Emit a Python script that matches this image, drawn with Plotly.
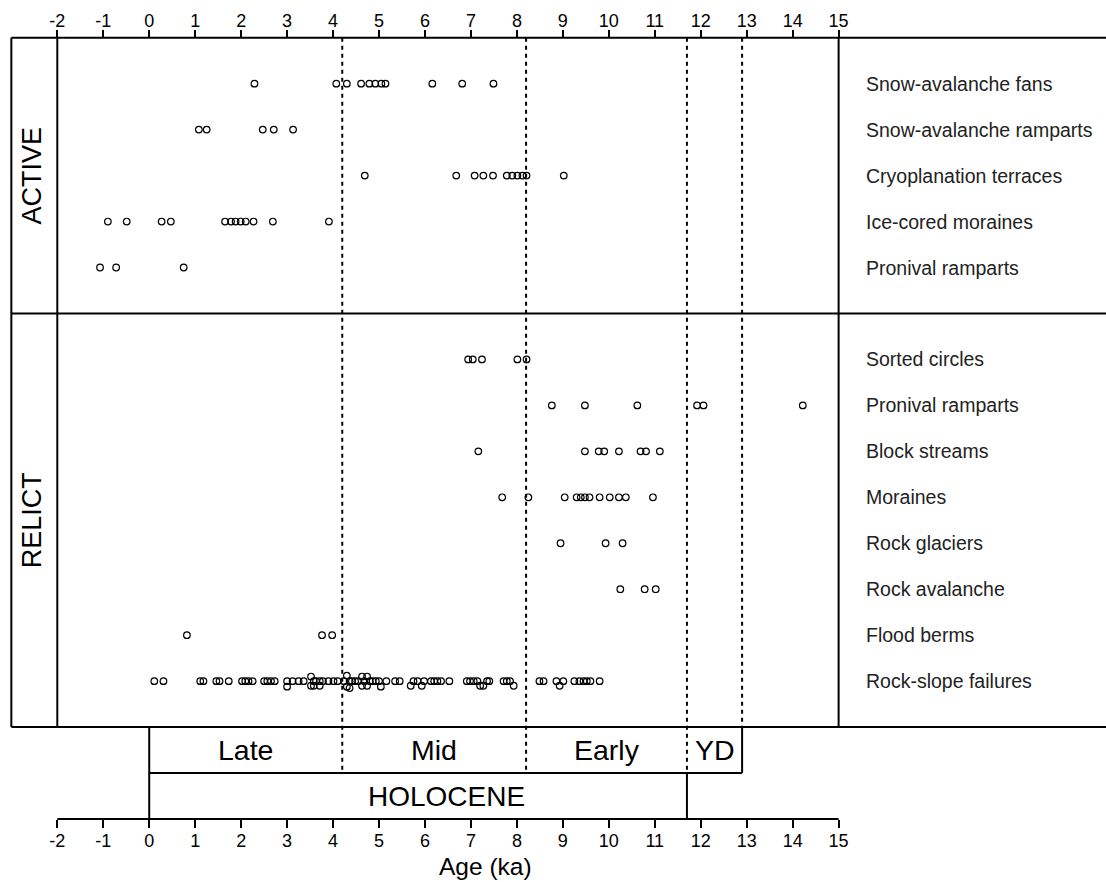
import plotly.graph_objects as go

# ---------------- data (ages in ka) ----------------
active_cats = ["Snow-avalanche fans", "Snow-avalanche ramparts", "Cryoplanation terraces",
               "Ice-cored moraines", "Pronival ramparts"]
relict_cats = ["Sorted circles", "Pronival ramparts", "Block streams", "Moraines",
               "Rock glaciers", "Rock avalanche", "Flood berms", "Rock-slope failures"]

snow_av_fans = [2.29, 4.07, 4.30, 4.61, 4.79, 4.92, 5.05, 5.14, 6.16, 6.81, 7.49]
snow_av_ramparts = [1.08, 1.25, 2.47, 2.71, 3.13]
cryoplanation = [4.69, 6.68, 7.08, 7.27, 7.48, 7.78, 7.90, 8.01, 8.12, 8.21, 9.02]
ice_cored = [-0.90, -0.49, 0.27, 0.47, 1.65, 1.78, 1.88, 1.99, 2.10, 2.27, 2.69, 3.91]
pronival_active = [-1.07, -0.72, 0.75]

sorted_circles = [6.94, 7.04, 7.24, 8.01, 8.21]
pronival_relict = [8.76, 9.48, 10.62, 11.92, 12.06, 14.22]
block_streams = [7.16, 9.48, 9.78, 9.90, 10.22, 10.69, 10.81, 11.11]
moraines = [7.68, 8.25, 9.04, 9.30, 9.39, 9.48, 9.58, 9.80, 10.02, 10.22, 10.37, 10.96]
rock_glaciers = [8.95, 9.93, 10.30]
rock_avalanche = [10.25, 10.78, 11.02]
flood_berms = [0.82, 3.76, 3.98]
rsf_age = [
    0.11, 0.31, 1.11, 1.18, 1.46, 1.53, 1.73,
    2.02, 2.09, 2.16, 2.25, 2.50, 2.57, 2.65, 2.73,
    3.00, 3.00, 3.12, 3.25, 3.36,
    3.52, 3.52, 3.58, 3.58, 3.63, 3.71, 3.71, 3.78,
    3.90, 4.01, 4.10,
    4.24, 4.30, 4.30, 4.36, 4.36, 4.41, 4.48, 4.55,
    4.63, 4.63, 4.68, 4.74, 4.74, 4.80, 4.86, 4.93,
    5.00, 5.04, 5.16, 5.35, 5.45,
    5.69, 5.75, 5.84, 5.93, 5.98,
    6.13, 6.20, 6.27, 6.35, 6.53,
    6.91, 6.98, 7.06, 7.14, 7.20, 7.27, 7.35, 7.40,
    7.71, 7.78, 7.85, 7.93,
    8.49, 8.58, 8.86, 8.93, 9.01,
    9.25, 9.36, 9.45, 9.52, 9.60, 9.80]
# small vertical scatter of overlapping rock-slope-failure symbols (row units)
rsf_offset = [
    0, 0, 0, 0, 0, 0, 0,
    0, 0, 0, 0, 0, 0, 0, 0,
    0, 0.12, 0, 0, 0,
    -0.1, 0.1, 0, 0.1, 0, 0, 0.1, 0,
    0, 0, 0,
    0, -0.12, 0.12, 0, 0.15, 0, 0, 0,
    -0.1, 0.1, 0, -0.1, 0.1, 0, 0, 0,
    0, 0.12, 0, 0, 0,
    0.1, 0, 0, 0.1, 0,
    0, 0, 0, 0, 0,
    0, 0, 0, 0, 0.1, 0.1, 0, 0,
    0, 0, 0, 0.1,
    0, 0, 0, 0.1, 0,
    0, 0, 0, 0, 0, 0]

active_ages = [snow_av_fans, snow_av_ramparts, cryoplanation, ice_cored, pronival_active]
relict_ages = [sorted_circles, pronival_relict, block_streams, moraines,
               rock_glaciers, rock_avalanche, flood_berms, rsf_age]

tick_vals = list(range(-2, 16))
period_labels = ["Late", "Mid", "Early", "YD"]
period_bounds = [0.0, 4.2, 8.2, 11.7, 12.9]
holocene_bounds = [0.0, 11.7]

# ---------------- geometry ----------------
W, H = 1106, 882
U = 45.96          # px per unit (both axes)
X0PX = 57.3        # px position of x=-2
Y0PX = 37.7        # px position of top frame (row 0)
PT, PB = 30, 830   # plot area top / bottom px
XMIN = -2 - X0PX / U
XMAX = -2 + (W - X0PX) / U
YTOP = (PT - Y0PX) / U
YBOT = (PB - Y0PX) / U
FRAME_L = -3.0
N_ACT = len(active_cats)
DIV = N_ACT + 1
REL0 = DIV + 1
FRAME_B = DIV + len(relict_cats) + 1
AXIS_Y = FRAME_B + 2


def paper_y(ydata):
    return (PB - (Y0PX + ydata * U)) / (PB - PT)


FONT = "Liberation Sans, Arial, Helvetica, sans-serif"
fig = go.Figure()

marker = dict(symbol="circle-open", size=6.6, color="black", line=dict(width=1.2, color="black"))
for i, ages in enumerate(active_ages):
    fig.add_trace(go.Scatter(x=ages, y=[i + 1] * len(ages), mode="markers",
                             marker=marker, showlegend=False, hoverinfo="x"))
for j, ages in enumerate(relict_ages):
    if ages is rsf_age:
        ys = [REL0 + j + d for d in rsf_offset]
    else:
        ys = [REL0 + j] * len(ages)
    fig.add_trace(go.Scatter(x=ages, y=ys, mode="markers",
                             marker=marker, showlegend=False, hoverinfo="x"))
# invisible trace so the top (duplicate) age axis is drawn
fig.add_trace(go.Scatter(x=[tick_vals[0]], y=[0], xaxis="x2", yaxis="y", mode="markers",
                         marker=dict(opacity=0), showlegend=False, hoverinfo="skip"))

shapes = []
def line(x0, y0, x1, y1, dash="solid", width=2):
    shapes.append(dict(type="line", xref="x", yref="y", x0=x0, y0=y0, x1=x1, y1=y1,
                       line=dict(color="black", width=width, dash=dash), layer="above"))

# frame
line(FRAME_L, 0, XMAX, 0)
line(FRAME_L, DIV, XMAX, DIV)
line(FRAME_L, FRAME_B, XMAX, FRAME_B)
line(FRAME_L, 0, FRAME_L, FRAME_B)
line(-2, 0, -2, FRAME_B)
line(15, 0, 15, FRAME_B)
# period box
p0, p1, p2, p3, p4 = period_bounds
line(p0, FRAME_B, p0, AXIS_Y)
line(p0, FRAME_B + 1, p4, FRAME_B + 1)
line(p4, FRAME_B, p4, FRAME_B + 1)
line(holocene_bounds[1], FRAME_B + 1, holocene_bounds[1], AXIS_Y)
# axis lines
line(-2, AXIS_Y, 15, AXIS_Y)
# dashed period boundaries
DASH = "4px,4px"
line(p1, 0, p1, FRAME_B + 1, dash=DASH)
line(p2, 0, p2, FRAME_B + 1, dash=DASH)
line(p3, 0, p3, FRAME_B + 1, dash=DASH)
line(p4, 0, p4, FRAME_B, dash=DASH)

ann = []
for i, c in enumerate(active_cats):
    ann.append(dict(x=15.56, y=i + 1, text=c, xanchor="left", yanchor="middle", showarrow=False,
                    font=dict(size=19.5, color="#222", family=FONT)))
for j, c in enumerate(relict_cats):
    ann.append(dict(x=15.56, y=REL0 + j, text=c, xanchor="left", yanchor="middle", showarrow=False,
                    font=dict(size=19.5, color="#222", family=FONT)))
ann.append(dict(x=-2.55, y=DIV / 2, text="ACTIVE", textangle=-90, showarrow=False,
                font=dict(size=27, color="black", family=FONT)))
ann.append(dict(x=-2.55, y=(DIV + FRAME_B) / 2, text="RELICT", textangle=-90, showarrow=False,
                font=dict(size=27, color="black", family=FONT)))
for k, lab in enumerate(period_labels):
    ann.append(dict(x=(period_bounds[k] + period_bounds[k + 1]) / 2, y=FRAME_B + 0.5, text=lab,
                    showarrow=False, font=dict(size=28.5, color="black", family=FONT)))
ann.append(dict(x=6.46, y=FRAME_B + 1.5, text="HOLOCENE", showarrow=False,
                font=dict(size=28, color="black", family=FONT)))
ann.append(dict(x=7.31, xref="x", yref="paper", y=(PB - 866) / (PB - PT), text="Age (ka)",
                showarrow=False, yanchor="middle", font=dict(size=24.5, color="black", family=FONT)))
for a in ann:
    a.setdefault("xref", "x")
    a.setdefault("yref", "y")

axis_common = dict(range=[XMIN, XMAX], tickvals=tick_vals, ticktext=[str(t) for t in tick_vals],
                   ticks="outside", ticklen=8, tickwidth=1.7, tickcolor="black",
                   showline=False, showgrid=False, zeroline=False,
                   tickfont=dict(size=18, color="black", family=FONT))
fig.update_layout(
    width=W, height=H, autosize=False,
    margin=dict(l=0, r=0, t=PT, b=H - PB, pad=0),
    paper_bgcolor="white", plot_bgcolor="white",
    xaxis=dict(**axis_common, anchor="free", position=paper_y(AXIS_Y), side="bottom",
               ticklabelstandoff=-3),
    xaxis2=dict(**axis_common, anchor="free", position=paper_y(0), side="top",
                overlaying="x", ticklabelstandoff=-4),
    yaxis=dict(range=[YBOT, YTOP], visible=False, showgrid=False, zeroline=False),
    shapes=shapes, annotations=ann,
)
fig.write_html("out.html")
